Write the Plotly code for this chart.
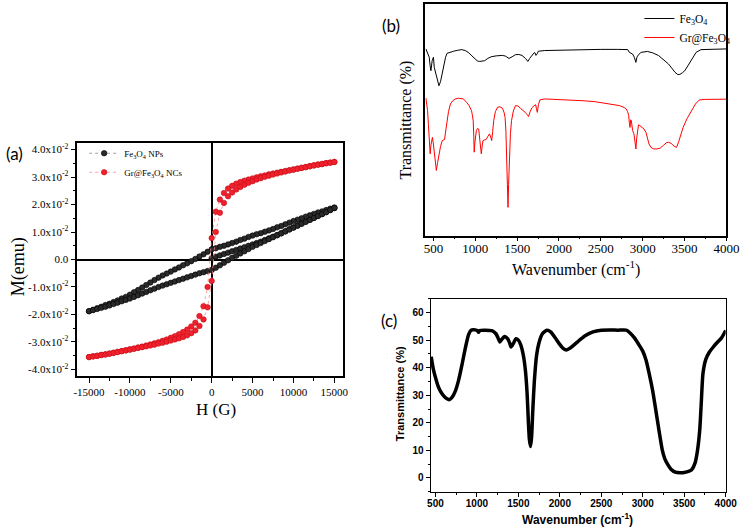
import plotly.graph_objects as go

# ---------------- (a) hysteresis loops: H in G, M in 1e-2 emu ----------------
field_desc = [15000, 14500, 14000, 13500, 13000, 12500, 12000, 11500, 11000, 10500,
              10000, 9500, 9000, 8500, 8000, 7500, 7000, 6500, 6000, 5500,
              5000, 4500, 4000, 3500, 3000, 2500, 2000, 1500, 1000, 500,
              0, -500, -1000, -1500, -2000, -2500, -3000, -3500, -4000, -4500,
              -5000, -5500, -6000, -6500, -7000, -7500, -8000, -8500, -9000, -9500,
              -10000, -10500, -11000, -11500, -12000, -12500, -13000, -13500, -14000, -14500,
              -15000]

fe_virgin_m = [0.05, 0.10, 0.15, 0.20, 0.25, 0.30, 0.35, 0.40, 0.45, 0.50,
               0.55, 0.60, 0.65, 0.71, 0.77, 0.83, 0.89, 0.96, 1.03, 1.10,
               1.17, 1.24, 1.31, 1.38, 1.45, 1.52, 1.59, 1.66, 1.73, 1.80, 1.87]
fe_desc_m = [1.89, 1.85, 1.80, 1.75, 1.71, 1.66, 1.61, 1.56, 1.50, 1.45,
             1.40, 1.34, 1.28, 1.22, 1.17, 1.11, 1.06, 1.01, 0.96, 0.92,
             0.87, 0.82, 0.76, 0.71, 0.65, 0.60, 0.55, 0.50, 0.46, 0.41,
             0.37, 0.28, 0.19, 0.11, 0.02, -0.06, -0.14, -0.21, -0.29, -0.36,
             -0.44, -0.51, -0.58, -0.66, -0.75, -0.84, -0.93, -1.02, -1.11, -1.19,
             -1.28, -1.36, -1.42, -1.49, -1.55, -1.61, -1.66, -1.72, -1.77, -1.83, -1.88]
fe_asc_m = [-1.88, -1.84, -1.80, -1.76, -1.72, -1.67, -1.62, -1.57, -1.52, -1.47,
            -1.42, -1.36, -1.30, -1.24, -1.18, -1.12, -1.06, -1.00, -0.95, -0.90,
            -0.85, -0.80, -0.75, -0.70, -0.65, -0.60, -0.55, -0.50, -0.46, -0.42,
            -0.38, -0.30, -0.21, -0.12, -0.03, 0.06, 0.14, 0.22, 0.30, 0.38,
            0.46, 0.53, 0.60, 0.67, 0.74, 0.81, 0.88, 0.95, 1.02, 1.09,
            1.16, 1.23, 1.30, 1.37, 1.44, 1.51, 1.58, 1.65, 1.72, 1.80, 1.88]

gr_desc_m = [3.55, 3.53, 3.51, 3.48, 3.46, 3.43, 3.40, 3.37, 3.34, 3.31,
             3.28, 3.25, 3.22, 3.19, 3.16, 3.13, 3.10, 3.06, 3.03, 2.99,
             2.95, 2.91, 2.87, 2.82, 2.76, 2.68, 2.58, 2.42, 2.18, 1.74,
             0.78, -1.00, -1.70, -2.06, -2.30, -2.44, -2.55, -2.64, -2.72, -2.79,
             -2.85, -2.91, -2.96, -3.01, -3.05, -3.09, -3.13, -3.17, -3.20, -3.24,
             -3.27, -3.30, -3.33, -3.36, -3.39, -3.42, -3.45, -3.47, -3.50, -3.52, -3.55]
gr_asc_m = [-3.55, -3.53, -3.51, -3.48, -3.46, -3.43, -3.40, -3.37, -3.34, -3.31,
            -3.28, -3.25, -3.22, -3.19, -3.16, -3.13, -3.10, -3.06, -3.03, -2.99,
            -2.95, -2.91, -2.87, -2.82, -2.76, -2.68, -2.58, -2.42, -2.18, -1.74,
            -0.78, 1.00, 1.70, 2.06, 2.30, 2.44, 2.55, 2.64, 2.72, 2.79,
            2.85, 2.91, 2.96, 3.01, 3.05, 3.09, 3.13, 3.17, 3.20, 3.24,
            3.27, 3.30, 3.33, 3.36, 3.39, 3.42, 3.45, 3.47, 3.50, 3.52, 3.55]

h_ticks = [-15000, -10000, -5000, 0, 5000, 10000, 15000]
m_ticks = [-4, -3, -2, -1, 0, 1, 2, 3, 4]

# ---------------- (b) FTIR of Fe3O4 and Gr@Fe3O4 (arbitrary offset units) ----------------
fe_wn = [410, 430, 450, 460, 470, 485, 500, 510, 525, 547, 566, 585, 605, 625, 645, 663,
         700, 741, 790, 838, 880, 916, 960, 995, 1025, 1053, 1085, 1111, 1150, 1189,
         1250, 1300, 1325, 1360, 1403, 1440, 1480, 1520, 1558, 1600, 1628, 1650, 1675,
         1700, 1712, 1725, 1740, 1753, 1830, 2000, 2258, 2500, 2700, 2822, 2841, 2860,
         2880, 2900, 2919, 2930, 2938, 2960, 2978, 3056, 3120, 3191, 3250, 3308, 3350,
         3386, 3420, 3444, 3475, 3503, 3540, 3580, 3610, 3638, 3697, 3800, 4000]
fe_t = [80.6, 79.0, 77.0, 73.5, 71.2, 75.5, 77.0, 72.6, 70.5, 67.6, 64.7, 66.5, 69.8, 74.0, 77.0, 78.7,
        79.2, 79.6, 80.0, 80.3, 79.9, 79.1, 77.6, 76.3, 75.4, 75.2, 75.3, 75.5, 76.5, 77.2,
        77.6, 77.8, 77.8, 77.5, 76.5, 77.2, 78.1, 78.2, 77.8, 76.5, 75.2, 76.5, 77.8,
        78.8, 79.0, 77.8, 78.5, 79.6, 79.9, 80.1, 80.3, 80.4, 80.4, 80.3, 79.1, 78.6,
        78.4, 77.0, 74.8, 76.8, 77.5, 78.4, 79.1, 79.5, 78.9, 77.7, 76.0, 74.1, 72.2,
        70.5, 69.5, 69.6, 70.3, 71.2, 73.3, 75.5, 77.4, 79.1, 80.3, 80.5, 80.6]

gr_wn = [410, 420, 430, 440, 450, 461, 470, 480, 488, 498, 508, 520, 535, 550, 566, 585,
         605, 620, 633, 650, 663, 680, 703, 730, 761, 800, 858, 880, 897, 925, 955, 965,
         975, 982, 987, 995, 1003, 1013, 1025, 1041, 1055, 1065, 1072, 1082, 1092, 1110,
         1130, 1150, 1170, 1185, 1196, 1208, 1220, 1240, 1266, 1295, 1325, 1345, 1356,
         1366, 1375, 1383, 1391, 1398, 1410, 1420, 1433, 1455, 1480, 1510, 1538, 1570,
         1597, 1620, 1636, 1655, 1675, 1700, 1721, 1730, 1741, 1755, 1772, 1830, 2000,
         2141, 2300, 2433, 2600, 2725, 2780, 2803, 2820, 2833, 2841, 2849, 2857, 2865,
         2880, 2895, 2910, 2919, 2928, 2938, 2950, 2966, 2990, 3016, 3040, 3075, 3100,
         3133, 3170, 3211, 3250, 3280, 3308, 3340, 3375, 3405, 3430, 3455, 3483, 3530,
         3580, 3630, 3678, 3750, 4000]
gr_t = [59.4, 57.0, 54.0, 48.0, 42.4, 35.3, 39.0, 41.5, 42.4, 40.0, 36.7, 32.0, 28.1, 31.5, 35.3, 38.5,
        41.0, 41.3, 41.5, 46.0, 49.6, 53.5, 56.8, 58.2, 59.0, 59.3, 59.0, 58.3, 57.5, 56.2, 54.0, 52.0,
        49.6, 43.0, 36.0, 40.0, 43.5, 45.3, 46.2, 46.0, 41.0, 37.5, 35.3, 38.5, 41.0, 41.3,
        41.5, 42.8, 43.9, 42.5, 41.0, 45.0, 49.6, 53.5, 55.4, 55.6, 55.0, 53.0, 51.0,
        45.0, 35.3, 22.0, 12.2, 22.0, 35.3, 44.0, 49.6, 53.8, 56.1, 56.0, 55.0, 54.2,
        53.2, 52.2, 51.4, 53.5, 55.1, 56.0, 56.5, 55.0, 53.2, 56.5, 58.6, 59.0, 58.8,
        58.6, 58.2, 57.8, 57.0, 56.1, 55.3, 54.7, 53.5, 51.8, 48.5, 46.7, 50.0, 49.5,
        45.3, 44.0, 40.0, 37.4, 42.0, 46.0, 47.8, 47.5, 46.8, 46.0, 44.5, 39.6, 38.0,
        37.4, 37.4, 37.8, 39.0, 40.0, 40.3, 39.8, 38.6, 38.1, 40.5, 43.5, 46.7, 50.5,
        54.0, 56.8, 58.6, 58.8, 58.9]

# ---------------- (c) FTIR spectrum, transmittance in % ----------------
c_wn = [450, 460, 475, 500, 530, 560, 600, 640, 665, 700, 740, 780, 820, 860, 900, 930,
        980, 1010, 1020, 1035, 1100, 1180, 1230, 1255, 1278, 1300, 1336, 1370, 1395, 1412,
        1440, 1471, 1500, 1530, 1560, 1585, 1605, 1620, 1633, 1647, 1660, 1675, 1695, 1720,
        1746, 1790, 1844, 1890, 1940, 1990, 2040, 2079, 2130, 2200, 2300, 2400, 2500, 2600,
        2700, 2800, 2850, 2900, 2960, 3000, 3040, 3080, 3118, 3150, 3176, 3205, 3235, 3265,
        3295, 3340, 3393, 3450, 3500, 3560, 3590, 3630, 3660, 3687, 3705, 3726, 3760, 3800,
        3850, 3900, 3950, 4000]
c_t = [44.0, 42.0, 39.5, 36.5, 33.5, 31.5, 29.8, 28.7, 28.4, 29.2, 31.5, 35.5, 41.0, 47.0, 52.0, 53.6,
       53.7, 53.3, 52.8, 53.5, 53.6, 53.4, 52.3, 50.8, 49.3, 50.3, 51.3, 50.5, 49.0, 47.5,
       48.8, 50.5, 50.0, 48.2, 44.5, 39.0, 31.0, 21.0, 14.0, 11.4, 15.0, 25.0, 36.0, 44.5,
       48.7, 52.3, 53.6, 53.0, 51.0, 48.8, 47.0, 46.4, 47.2, 49.0, 51.5, 53.0, 53.6, 53.7,
       53.6, 53.6, 52.5, 50.8, 48.0, 46.0, 42.7, 37.5, 31.9, 26.0, 21.0, 15.5, 10.2, 7.0,
       5.2, 3.2, 2.1, 1.9, 2.0, 2.5, 3.0, 5.4, 10.0, 17.4, 27.0, 37.9, 43.0, 45.5,
       47.5, 49.2, 50.8, 53.5]

wn_ticks = [500, 1000, 1500, 2000, 2500, 3000, 3500, 4000]
c_ticks = [0, 10, 20, 30, 40, 50, 60]

W, H = 756, 527


def px(x):
    return x / W


def py(y):
    return 1 - y / H


SERIF = "Liberation Serif"
SANS = "Liberation Sans"

fig = go.Figure()

# (a) traces: virgin curve, descending branch, ascending branch
fe_h = field_desc[30::-1] + field_desc + field_desc[::-1]
fe_m = fe_virgin_m + fe_desc_m + fe_asc_m
gr_h = field_desc + field_desc[::-1]
gr_m = gr_desc_m + gr_asc_m

fig.add_trace(go.Scatter(
    x=fe_h, y=fe_m, mode="lines+markers", name="Fe<sub>3</sub>O<sub>4</sub> NPs",
    line=dict(color="#8a8a8a", width=0.8, dash="dot"),
    marker=dict(size=5.5, color="#2a2a2a", line=dict(color="#000000", width=0.6)),
    xaxis="x", yaxis="y", legend="legend",
))
fig.add_trace(go.Scatter(
    x=gr_h, y=gr_m, mode="lines+markers", name="Gr@Fe<sub>3</sub>O<sub>4</sub> NCs",
    line=dict(color="#ff8a8a", width=0.8, dash="dot"),
    marker=dict(size=5.5, color="#f2202c", line=dict(color="#c0101a", width=0.6)),
    xaxis="x", yaxis="y", legend="legend",
))

# (b) traces
fig.add_trace(go.Scatter(
    x=fe_wn, y=fe_t, mode="lines", name="Fe<sub>3</sub>O<sub>4</sub>",
    line=dict(color="#000000", width=1),
    xaxis="x2", yaxis="y2", legend="legend2",
))
fig.add_trace(go.Scatter(
    x=gr_wn, y=gr_t, mode="lines", name="Gr@Fe<sub>3</sub>O<sub>4</sub>",
    line=dict(color="#ff0000", width=1),
    xaxis="x2", yaxis="y2", legend="legend2",
))

# (c) trace
fig.add_trace(go.Scatter(
    x=c_wn, y=c_t, mode="lines", showlegend=False,
    line=dict(color="#000000", width=3.5, shape="spline", smoothing=0.6),
    xaxis="x3", yaxis="y3",
))

axis_common = dict(showgrid=False, showline=True, linecolor="black", mirror=True)
m_labels = ["%.1fx10<sup>-2</sup>" % v if v != 0 else "0.0" for v in m_ticks]
h_labels = [str(v) for v in h_ticks]

fig.update_layout(
    width=W, height=H, autosize=False,
    paper_bgcolor="white", plot_bgcolor="white",
    margin=dict(l=0, r=0, t=0, b=0),
    xaxis=dict(
        domain=[px(75), px(347)], range=[-16430, 16080], anchor="y",
        tickvals=h_ticks, ticktext=h_labels,
        ticks="outside", ticklen=5, tickwidth=1, tickcolor="black",
        minor=dict(dtick=2500, tick0=0, ticks="outside", ticklen=3, tickcolor="black"),
        tickfont=dict(family=SERIF, size=11, color="black"),
        zeroline=True, zerolinecolor="black", zerolinewidth=1.5,
        linewidth=1.5, **axis_common,
    ),
    yaxis=dict(
        domain=[py(376), py(142)], range=[-4.25, 4.25], anchor="x",
        tickvals=m_ticks, ticktext=m_labels,
        ticks="outside", ticklen=5, tickwidth=1, tickcolor="black",
        minor=dict(dtick=0.5, tick0=0, ticks="outside", ticklen=3, tickcolor="black"),
        tickfont=dict(family=SERIF, size=11, color="black"),
        zeroline=True, zerolinecolor="black", zerolinewidth=1.5,
        linewidth=1.5, **axis_common,
    ),
    xaxis2=dict(
        domain=[px(431), px(739)], range=[403, 4000], anchor="y2",
        tickvals=wn_ticks,
        ticks="outside", ticklen=4, tickcolor="black",
        minor=dict(dtick=250, tick0=0, ticks="outside", ticklen=2, tickcolor="black"),
        tickfont=dict(family=SERIF, size=13, color="black"), ticklabelstandoff=-4,
        zeroline=False, linewidth=1.5, **axis_common,
    ),
    yaxis2=dict(
        domain=[py(235), py(3)], range=[0, 100], anchor="x2",
        showticklabels=False, ticks="", zeroline=False, linewidth=1.5, **axis_common,
    ),
    xaxis3=dict(
        domain=[px(436.5), px(738.3)], range=[443, 4000], anchor="y3",
        tickvals=wn_ticks,
        ticks="outside", ticklen=4, tickcolor="black",
        minor=dict(dtick=250, tick0=0, ticks="outside", ticklen=2, tickcolor="black"),
        tickfont=dict(family=SANS, size=10, color="black", weight="bold"), ticklabelstandoff=-2,
        zeroline=False, linewidth=1.2, **axis_common,
    ),
    yaxis3=dict(
        domain=[py(491.7), py(298.3)], range=[-5, 65], anchor="x3",
        tickvals=c_ticks,
        ticks="outside", ticklen=4, tickcolor="black",
        minor=dict(dtick=5, tick0=0, ticks="outside", ticklen=2, tickcolor="black"),
        tickfont=dict(family=SANS, size=10, color="black", weight="bold"),
        zeroline=False, linewidth=1.2, **axis_common,
    ),
    legend=dict(
        x=px(82), y=py(138), xanchor="left", yanchor="top",
        bgcolor="rgba(0,0,0,0)", font=dict(family=SERIF, size=9, color="black"),
        itemwidth=30, tracegroupgap=0,
    ),
    legend2=dict(
        x=px(650), y=py(3), xanchor="left", yanchor="top",
        bgcolor="rgba(0,0,0,0)", font=dict(family=SERIF, size=11.5, color="black"),
        itemwidth=30, tracegroupgap=0,
    ),
    showlegend=True,
)

annos = [
    dict(text="(a)", x=px(11), y=py(153), font=dict(family="Lato", size=17)),
    dict(text="(b)", x=px(396), y=py(25), font=dict(family="Lato", size=17)),
    dict(text="(c)", x=px(394), y=py(320), font=dict(family="Lato", size=17)),
    dict(text="M(emu)", x=px(15), y=py(266), textangle=-90, font=dict(family=SERIF, size=18)),
    dict(text="H (G)", x=px(217), y=py(409), font=dict(family=SERIF, size=17)),
    dict(text="Transmittance (%)", x=px(411), y=py(119), textangle=-90, font=dict(family=SERIF, size=16)),
    dict(text="Wavenumber (cm<sup>-1</sup>)", x=px(585), y=py(268), font=dict(family=SERIF, size=16)),
    dict(text="<b>Transmittance (%)</b>", x=px(405), y=py(393), textangle=-90, font=dict(family=SANS, size=11)),
    dict(text="<b>Wavenumber (cm<sup>-1</sup>)</b>", x=px(587), y=py(519), font=dict(family=SANS, size=12)),
]
for a in annos:
    a.update(xref="paper", yref="paper", showarrow=False, xanchor="center", yanchor="middle")
    a["font"]["color"] = "black"
    fig.add_annotation(**a)

# drop the default body margin so the figure sits at the window origin
fig.write_html("out.html", config={"displayModeBar": False},
               post_script="document.body.style.margin='0';")
